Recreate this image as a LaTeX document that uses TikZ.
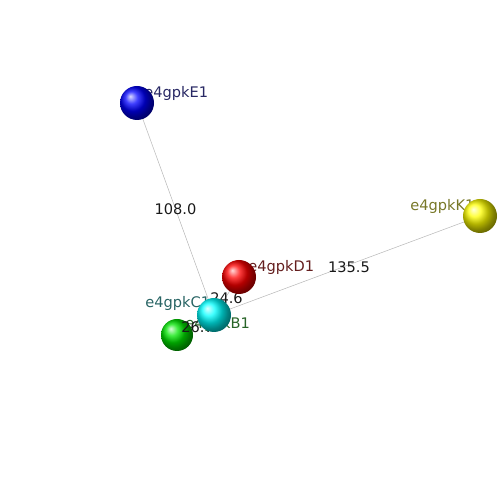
\documentclass[tikz,border=0pt]{standalone}
\usepackage{fontspec}
\setmainfont{DejaVu Sans}
\usepackage{tikz}
\usetikzlibrary{positioning,calc,shadings}
\definecolor{labE}{RGB}{40,40,100}
\definecolor{labD}{RGB}{100,30,30}
\definecolor{labK}{RGB}{120,120,40}
\definecolor{labC}{RGB}{40,100,100}
\definecolor{labB}{RGB}{40,100,40}
\definecolor{distc}{RGB}{25,25,25}
\begin{document}
\begin{tikzpicture}[font=\fontsize{8.3}{10}\selectfont,
  atom/.style={circle,minimum size=0.68cm,inner sep=0pt,shading=ball},
  bond/.style={draw=gray!55,line width=0.3pt},
  dist/.style={text=distc,inner sep=0pt},
  atomlabel/.style={anchor=west,inner sep=0pt}]
\useasboundingbox (0,0) rectangle (10,10);
% atom centres
\coordinate (E1) at (2.74,7.94);
\coordinate (C1) at (4.28,3.70);
\coordinate (B1) at (3.54,3.30);
\coordinate (D1) at (4.78,4.46);
\coordinate (K1) at (9.60,5.68);
% bonds with distances
\draw[bond] (E1) -- (C1) node[dist,midway] (dEC) {108.0};
\draw[bond] (C1) -- (K1) node[dist,midway,xshift=0.04cm,yshift=-0.03cm] (dCK) {135.5};
\draw[bond] (C1) -- (D1) node[dist,midway,yshift=-0.04cm] (dCD) {24.6};
\draw[bond] (C1) -- (B1);
% labels
\node[atomlabel,text=labE] (lE1) at (2.88,8.14) {e4gpkE1};
\node[atomlabel,text=labD] (lD1) at (4.96,4.66) {e4gpkD1};
\node[atomlabel,text=labK] (lK1) at (8.20,5.88) {e4gpkK1};
\node[atomlabel,text=labC] (lC1) at (2.90,3.94) {e4gpkC1};
\node[atomlabel,text=labB] (lB1) at (3.70,3.52) {e4gpkB1};
% spheres
\node[atom,ball color=blue] (sE1) at (E1) {};
\node[atom,ball color=red] (sD1) at (D1) {};
\node[atom,ball color=yellow] (sK1) at (K1) {};
\node[atom,ball color=green!90!black,minimum size=0.64cm] (sB1) at (B1) {};
\node[dist,anchor=west] (dCB) at (3.62,3.46) {26.7};
\node[atom,ball color=cyan] (sC1) at (C1) {};
\end{tikzpicture}
\end{document}
